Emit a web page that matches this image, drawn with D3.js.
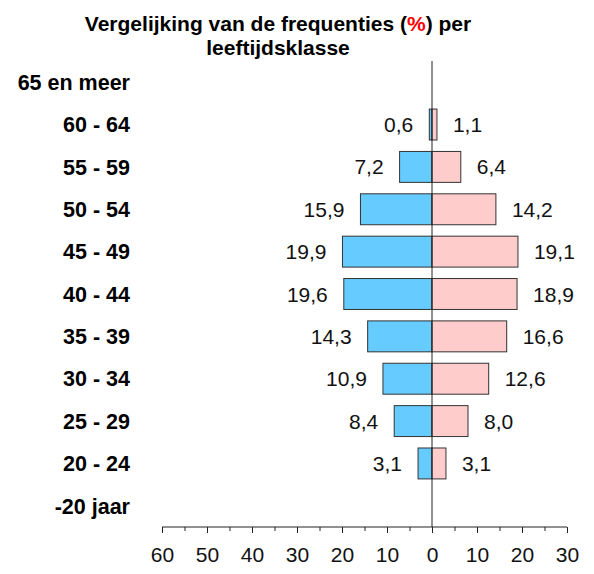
<!DOCTYPE html>
<html>
<head>
<meta charset="utf-8">
<script src="https://cdn.jsdelivr.net/npm/d3@7"></script>
<style>
  html, body { margin: 0; padding: 0; background: #fff; }
  svg { display: block; font-family: "Liberation Sans", Arial, sans-serif; }
</style>
</head>
<body>
<svg id="chart" width="594" height="574"></svg>
<script>
// Age classes, top to bottom
const ageClasses = ["65 en meer", "60 - 64", "55 - 59", "50 - 54", "45 - 49", "40 - 44",
                    "35 - 39", "30 - 34", "25 - 29", "20 - 24", "-20 jaar"];
// Frequencies (%) drawn to the left (blue) and to the right (pink)
const leftValues  = [null, 0.6, 7.2, 15.9, 19.9, 19.6, 14.3, 10.9, 8.4, 3.1, null];
const rightValues = [null, 1.1, 6.4, 14.2, 19.1, 18.9, 16.6, 12.6, 8.0, 3.1, null];
// Axis ticks
const tickValues = d3.range(-60, 31, 5);
const tickLabels = ["60", "50", "40", "30", "20", "10", "0", "10", "20", "30"];

const svg = d3.select("#chart");
const fmt = v => d3.format(".1f")(v).replace(".", ",");

const x = d3.scaleLinear().domain([-60, 30]).range([162, 567]);
const y = d3.scaleBand().domain(ageClasses).range([61, 527]).paddingInner(0.27).paddingOuter(0.135);
const band = d3.scaleBand().domain(ageClasses).range([61, 527]);

// Title
const title = svg.append("text")
  .attr("text-anchor", "middle")
  .attr("font-weight", "bold")
  .attr("font-size", 21)
  .attr("fill", "#000");
const t1 = title.append("tspan").attr("x", 278).attr("y", 31);
t1.append("tspan").text("Vergelijking van de frequenties (");
t1.append("tspan").attr("fill", "#ff0000").text("%");
t1.append("tspan").text(") per");
title.append("tspan").attr("x", 278).attr("y", 55).text("leeftijdsklasse");

// Category labels
svg.append("g").selectAll("text")
  .data(ageClasses)
  .join("text")
  .attr("x", 130)
  .attr("y", d => band(d) + band.bandwidth() / 2)
  .attr("dy", "0.36em")
  .attr("text-anchor", "end")
  .attr("font-weight", "bold")
  .attr("font-size", 21.5)
  .attr("fill", "#000")
  .text(d => d);

const rows = ageClasses.map((a, i) => ({ age: a, left: leftValues[i], right: rightValues[i] }));

// Left bars
svg.append("g").selectAll("rect")
  .data(rows.filter(d => d.left != null))
  .join("rect")
  .attr("x", d => x(-d.left))
  .attr("y", d => y(d.age))
  .attr("width", d => x(0) - x(-d.left))
  .attr("height", y.bandwidth())
  .attr("fill", "#66ccff")
  .attr("stroke", "#333")
  .attr("stroke-width", 1);

// Right bars
svg.append("g").selectAll("rect")
  .data(rows.filter(d => d.right != null))
  .join("rect")
  .attr("x", x(0))
  .attr("y", d => y(d.age))
  .attr("width", d => x(d.right) - x(0))
  .attr("height", y.bandwidth())
  .attr("fill", "#ffcccc")
  .attr("stroke", "#333")
  .attr("stroke-width", 1);

// Value labels
const labels = svg.append("g").attr("font-size", 21).attr("fill", "#111");
labels.selectAll("text.l")
  .data(rows.filter(d => d.left != null))
  .join("text")
  .attr("class", "l")
  .attr("x", d => x(-d.left) - 16)
  .attr("y", d => y(d.age) + y.bandwidth() / 2)
  .attr("dy", "0.36em")
  .attr("text-anchor", "end")
  .text(d => fmt(d.left));
labels.selectAll("text.r")
  .data(rows.filter(d => d.right != null))
  .join("text")
  .attr("class", "r")
  .attr("x", d => x(d.right) + 16)
  .attr("y", d => y(d.age) + y.bandwidth() / 2)
  .attr("dy", "0.36em")
  .attr("text-anchor", "start")
  .text(d => fmt(d.right));

// Vertical zero line
svg.append("line")
  .attr("x1", x(0)).attr("x2", x(0))
  .attr("y1", 61).attr("y2", 527)
  .attr("stroke", "#222").attr("stroke-width", 1);

// Bottom axis
const axis = d3.axisBottom(x)
  .tickValues(tickValues)
  .tickSize(6)
  .tickPadding(14)
  .tickFormat(d => (d % 10 === 0 ? tickLabels[(d + 60) / 10] : ""));
const gAxis = svg.append("g")
  .attr("transform", "translate(0,527)")
  .call(axis);
gAxis.select(".domain").attr("stroke", "#222").attr("d", `M${x(-60)},0H${x(30)}`);
gAxis.selectAll(".tick line")
  .attr("stroke", "#222")
  .attr("y2", d => (d % 10 === 0 ? 6 : 4));
gAxis.selectAll(".tick text")
  .attr("font-size", 21)
  .attr("fill", "#111")
  .attr("font-family", "\"Liberation Sans\", Arial, sans-serif");
</script>
</body>
</html>
